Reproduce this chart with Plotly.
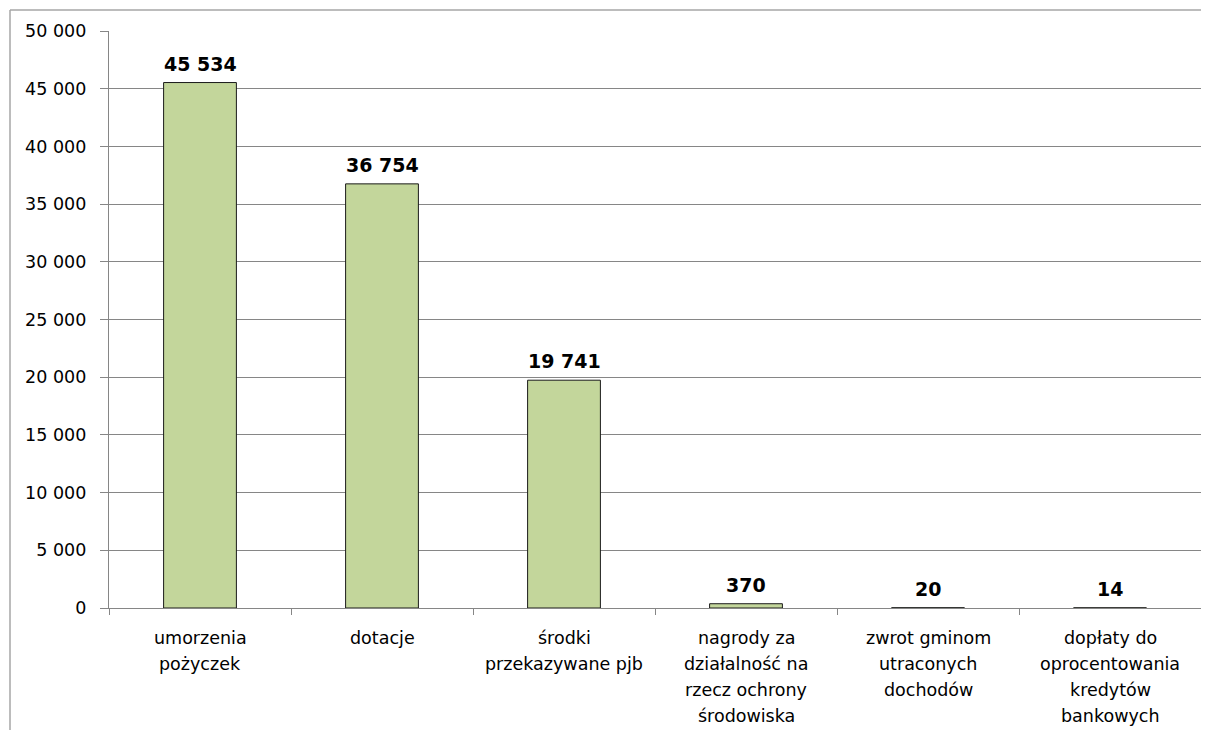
import plotly.graph_objects as go

categories = [
    "umorzenia pożyczek",
    "dotacje",
    "środki przekazywane pjb",
    "nagrody za działalność na rzecz ochrony środowiska",
    "zwrot gminom utraconych dochodów",
    "dopłaty do oprocentowania kredytów bankowych",
]
category_lines = [
    ["umorzenia", "pożyczek"],
    ["dotacje"],
    ["środki", "przekazywane pjb"],
    ["nagrody za", "działalność na", "rzecz ochrony", "środowiska"],
    ["zwrot gminom", "utraconych", "dochodów"],
    ["dopłaty do", "oprocentowania", "kredytów", "bankowych"],
]
values = [45534, 36754, 19741, 370, 20, 14]
y_ticks = [0, 5000, 10000, 15000, 20000, 25000, 30000, 35000, 40000, 45000, 50000]

FONT = "DejaVu Sans"

fig = go.Figure()
fig.add_trace(go.Bar(
    x=categories, y=values,
    marker=dict(color="#C3D69B", line=dict(color="#1a1a1a", width=1)),
    hoverinfo="skip",
))

# data labels
for c, v in zip(categories, values):
    fig.add_annotation(
        x=c, y=v, text="<b>" + f"{v:,}".replace(",", " ") + "</b>",
        showarrow=False, yanchor="bottom", yshift=6,
        font=dict(family=FONT, size=19, color="black"),
    )

# category labels (one annotation per line for Excel-like spacing)
for c, lines in zip(categories, category_lines):
    for i, ln in enumerate(lines):
        fig.add_annotation(
            x=c, y=0, yref="paper", text=ln,
            showarrow=False, yanchor="middle", yshift=-(30 + i * 26),
            font=dict(family=FONT, size=17.5, color="black"),
        )

# page has 8px body margin
W, H = 1201, 722
L, R, T, B = 101, 8, 23, 122
pw, ph = W - L - R, H - T - B
bx = (2 - L) / pw
by = 1 + (T - 2) / ph
fig.add_shape(type="line", xref="paper", yref="paper", x0=bx, x1=1.05, y0=by, y1=by,
              line=dict(color="#A6A6A6", width=1.5))
fig.add_shape(type="line", xref="paper", yref="paper", x0=bx, x1=bx, y0=by, y1=-0.3,
              line=dict(color="#A6A6A6", width=1.5))

fig.update_layout(
    width=W, height=H,
    margin=dict(l=L, r=R, t=T, b=B, pad=0),
    plot_bgcolor="white", paper_bgcolor="white",
    separators=", ",
    bargap=0.6,
    showlegend=False,
    font=dict(family=FONT, size=17.5, color="black"),
)
fig.update_xaxes(
    type="category",
    showline=True, linecolor="#868686", linewidth=1.3,
    ticks="outside", tickson="boundaries", ticklen=6, tickcolor="#868686",
    showticklabels=False,
    showgrid=False,
)
fig.update_yaxes(
    range=[0, 50000], tickvals=y_ticks, tickformat=",d",
    showline=True, linecolor="#868686", linewidth=1.3,
    ticks="outside", ticklen=8, tickcolor="#868686",
    ticklabelstandoff=10,
    showgrid=True, gridcolor="#868686", gridwidth=1,
    zeroline=False,
    tickfont=dict(family=FONT, size=17.5, color="black"),
)

fig.write_html("out.html")
